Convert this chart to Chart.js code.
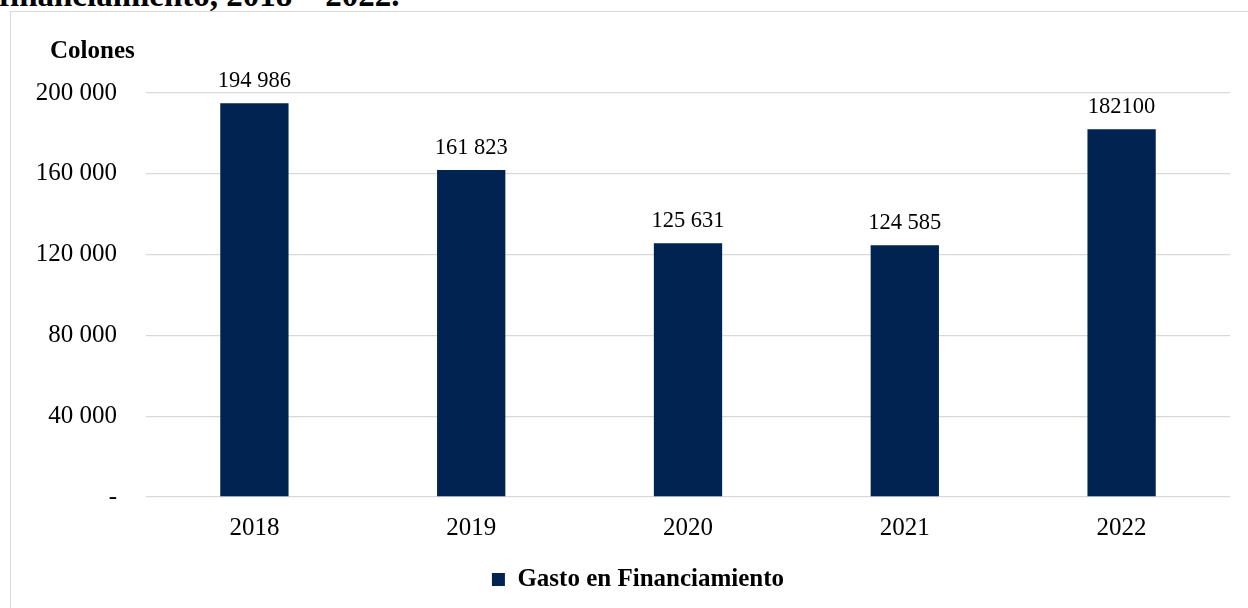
<!DOCTYPE html>
<html>
<head>
<meta charset="utf-8">
<script src="https://cdn.jsdelivr.net/npm/chart.js@4.4.1/dist/chart.umd.min.js"></script>
<style>
  html, body { margin:0; padding:0; background:#fff; width:1248px; height:608px; overflow:hidden; position:relative; }
  #title { position:absolute; left:-1px; top:-21px; font-family:"Liberation Serif", serif; font-weight:bold; font-size:33px; line-height:33px; color:#000; white-space:nowrap; }
  #box { position:absolute; left:10px; top:11px; width:1256px; height:620px; border:1px solid #d9d9d9; background:transparent; }
  #wrap { position:absolute; left:0; top:0; width:1254px; height:600px; }
</style>
</head>
<body>
<div id="title">financiamiento, 2018 – 2022.</div>
<div id="box"><div id="wrap"><canvas id="c"></canvas></div></div>
<script>
const categories = ["2018", "2019", "2020", "2021", "2022"];
const seriesName = "Gasto en Financiamiento";
const values = [194986, 161823, 125631, 124585, 182100];
const valueLabels = ["194 986", "161 823", "125 631", "124 585", "182100"];
const yTickValues = [0, 40000, 80000, 120000, 160000, 200000];
const yTickLabels = ["-", "40 000", "80 000", "120 000", "160 000", "200 000"];
const yAxisTitle = "Colones";

const FONT = "'Liberation Serif', serif";

const labelPlugin = {
  id: 'valueLabels',
  afterDatasetsDraw(chart) {
    const ctx = chart.ctx;
    const meta = chart.getDatasetMeta(0);
    ctx.save();
    ctx.font = "22.5px " + FONT;
    ctx.fillStyle = "#000";
    ctx.textAlign = "center";
    ctx.textBaseline = "alphabetic";
    meta.data.forEach((bar, i) => {
      ctx.fillText(valueLabels[i], bar.x, bar.y - 16);
    });
    ctx.font = "bold 25px " + FONT;
    ctx.textAlign = "left";
    ctx.fillText(yAxisTitle, 39, 46);
    ctx.restore();
  }
};

new Chart(document.getElementById('c'), {
  type: 'bar',
  data: {
    labels: categories,
    datasets: [{
      label: seriesName,
      data: values,
      backgroundColor: '#002352',
      borderWidth: 0,
      categoryPercentage: 1,
      barPercentage: 0.315
    }]
  },
  options: {
    responsive: true,
    maintainAspectRatio: false,
    animation: false,
    layout: { padding: { top: 81, right: 0, left: 0, bottom: 10 } },
    plugins: {
      legend: {
        position: 'bottom',
        labels: {
          boxWidth: 13, boxHeight: 13, padding: 10,
          color: '#000',
          font: { family: FONT, size: 25, weight: 'bold' }
        }
      },
      tooltip: { enabled: false }
    },
    scales: {
      x: {
        grid: { display: false },
        border: { display: false },
        ticks: { color: '#000', padding: 8, font: { family: FONT, size: 25 } },
        afterFit(s) { s.height = 60; }
      },
      y: {
        min: 0, max: 200000,
        afterBuildTicks(s) { s.ticks = yTickValues.map(v => ({ value: v })); },
        grid: { color: '#d9d9d9', lineWidth: 1.3, drawTicks: false },
        border: { display: false },
        ticks: {
          color: '#000', padding: 29, font: { family: FONT, size: 25 },
          callback(v) { const i = yTickValues.indexOf(v); return i >= 0 ? yTickLabels[i] : ''; }
        },
        afterFit(s) { s.width = 135; }
      },
      yRight: {
        position: 'right',
        min: 0, max: 200000,
        grid: { display: false, drawTicks: false },
        border: { display: false },
        ticks: { display: false },
        afterFit(s) { s.width = 35; }
      }
    }
  },
  plugins: [labelPlugin]
});
</script>
</body>
</html>
